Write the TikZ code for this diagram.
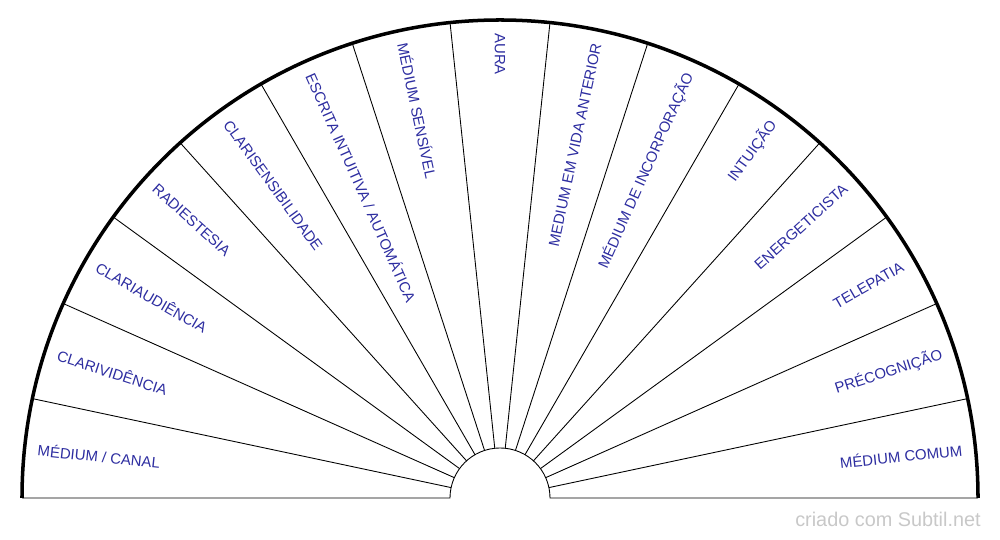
\documentclass[tikz,border=0pt]{standalone}
\usepackage{fontspec}
\setmainfont{Liberation Sans}
\usepackage{xcolor}
\usepackage{tikz}
\usetikzlibrary{calc}
\definecolor{labelblue}{RGB}{45,45,160}
\definecolor{markgray}{RGB}{200,200,200}

\begin{document}
\begin{tikzpicture}[x=0.02cm, y=0.02cm,
  spoke/.style={line width=0.5pt},
  sectorlabel/.style={text=labelblue, font=\fontsize{8.5}{10}\selectfont, inner sep=0pt}]
\useasboundingbox (0,0) rectangle (1000,540);
\coordinate (centre) at (500,42);

% outer rim and base line
\draw [line width=2pt] ($(centre)+(-478,0)$) arc[start angle=180, end angle=0, radius=478];
\draw [spoke] ($(centre)+(-478,0)$) -- ($(centre)+(-50,0)$) arc[start angle=180, end angle=0, radius=50] -- ($(centre)+(478,0)$);

% spokes
\foreach \k in {1,...,14}
  \draw [spoke] ($(centre)+(12*\k:50)$) -- ($(centre)+(12*\k:478)$);

% labels
\foreach [count=\i] \txt in {MÉDIUM / CANAL, CLARIVIDÊNCIA, CLARIAUDIÊNCIA, RADIESTESIA, CLARISENSIBILIDADE, ESCRITA INTUITIVA / AUTOMÁTICA, MÉDIUM SENSÍVEL, AURA, MEDIUM EM VIDA ANTERIOR, MÉDIUM DE INCORPORAÇÃO, INTUIÇÃO, ENERGETICISTA, TELEPATIA, PRÉCOGNIÇÃO, MÉDIUM COMUM} {
  \pgfmathsetmacro{\ang}{186-12*\i}
  \ifnum\i<9
    \node (label\i) [sectorlabel, anchor=west, rotate=\ang-180] at ($(centre)+(\ang:465)$) {\txt};
  \else
    \node (label\i) [sectorlabel, anchor=east, rotate=\ang] at ($(centre)+(\ang:465)$) {\txt};
  \fi
}

\node (credit) [text=markgray, font=\fontsize{11.3}{13}\selectfont, anchor=east, inner sep=0pt] at (981,21) {criado com Subtil.net};
\end{tikzpicture}
\end{document}
